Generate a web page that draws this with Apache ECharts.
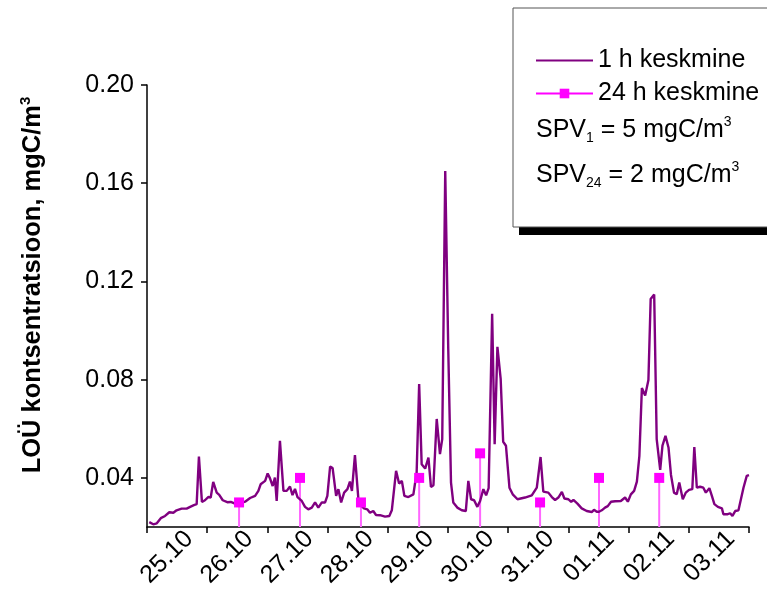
<!DOCTYPE html>
<html>
<head>
<meta charset="utf-8">
<script src="https://cdn.jsdelivr.net/npm/echarts@6/dist/echarts.min.js"></script>
<style>
html,body{margin:0;padding:0;background:#fff;}
#chart{width:767px;height:592px;}
</style>
</head>
<body>
<div id="chart"></div>
<script>
// ---- data ----
const days = ['25.10','26.10','27.10','28.10','29.10','30.10','31.10','01.11','02.11','03.11'];

// hourly (1 h) series: hour since 25.10 00:00, concentration
const hours = [
  0.9, 2.5, 3.9, 5.5, 7.2, 8.9, 10.5, 11.8, 13.8, 15.8, 17.2, 18.7, 19.8, 20.7, 21.9, 23.1,
  24.4, 25.4, 26.4, 27.8, 28.8, 30.2, 32.0, 33.4, 35.1, 36.7, 39.1, 41.1, 43.1, 44.4, 45.3, 47.1,
  48.1, 49.0, 50.1, 51.0, 51.7, 53.0, 54.4, 55.7, 57.0, 58.0, 59.0, 60.0, 61.7, 63.0, 64.3, 65.7,
  67.0, 68.3, 69.7, 71.0, 71.9, 73.0, 74.0, 75.4, 76.3, 77.4, 78.6, 79.9, 80.9, 81.7, 82.9, 84.3,
  85.3, 86.5, 87.8, 88.9, 90.2, 91.3, 92.9, 94.9, 96.6, 97.6, 99.3, 100.5, 101.6, 102.6, 104.2, 106.2,
  107.5, 108.5, 109.5, 110.9, 112.2, 113.2, 114.2, 115.5, 116.8, 117.7, 118.9, 120.1, 121.2, 122.1, 123.7, 125.5,
  127.1, 128.1, 129.2, 130.4, 131.7, 132.8, 134.1, 135.2, 136.2, 137.6, 138.6, 139.7, 141.0, 142.0, 143.1, 144.5,
  145.8, 147.7, 150.7, 153.4, 155.4, 156.9, 158.0, 160.0, 161.4, 162.7, 164.0, 165.4, 166.4, 168.0, 169.1, 170.0,
  171.6, 173.3, 175.3, 177.3, 178.2, 179.3, 180.2, 181.3, 182.6, 183.7, 185.0, 186.6, 188.9, 190.6, 191.7, 192.9,
  194.2, 195.3, 196.3, 197.3, 198.6, 199.9, 200.8, 202.2, 203.2, 204.6, 205.5, 206.7, 207.9, 208.9, 210.1, 211.2,
  212.2, 213.6, 214.8, 216.1, 217.4, 218.2, 219.2, 220.5, 221.8, 222.8, 224.2, 225.2, 226.2, 227.6, 229.2, 229.8,
  231.5, 232.5, 233.4, 234.5, 235.8, 237.8, 239.1, 240.0
];
const hourlyValues = [
  0.0220, 0.0211, 0.0215, 0.0236, 0.0245, 0.0260, 0.0258, 0.0268, 0.0275, 0.0275, 0.0282, 0.0289, 0.0293, 0.0487, 0.0302, 0.0309,
  0.0322, 0.0320, 0.0384, 0.0340, 0.0331, 0.0309, 0.0301, 0.0302, 0.0295, 0.0295, 0.0303, 0.0318, 0.0327, 0.0347, 0.0374, 0.0388,
  0.0418, 0.0399, 0.0367, 0.0401, 0.0306, 0.0551, 0.0347, 0.0347, 0.0365, 0.0330, 0.0355, 0.0322, 0.0306, 0.0282, 0.0272, 0.0279,
  0.0300, 0.0279, 0.0300, 0.0300, 0.0327, 0.0446, 0.0440, 0.0327, 0.0354, 0.0300, 0.0340, 0.0354, 0.0385, 0.0347, 0.0493, 0.0310,
  0.0290, 0.0276, 0.0272, 0.0258, 0.0265, 0.0249, 0.0248, 0.0242, 0.0245, 0.0268, 0.0429, 0.0377, 0.0388, 0.0327, 0.0322, 0.0333,
  0.0422, 0.0782, 0.0456, 0.0438, 0.0483, 0.0363, 0.0370, 0.0640, 0.0497, 0.0558, 0.1650, 0.0925, 0.0381, 0.0300, 0.0279, 0.0268,
  0.0265, 0.0388, 0.0313, 0.0309, 0.0282, 0.0306, 0.0354, 0.0329, 0.0358, 0.1068, 0.0537, 0.0934, 0.0803, 0.0547, 0.0531, 0.0360,
  0.0333, 0.0313, 0.0320, 0.0329, 0.0360, 0.0485, 0.0344, 0.0340, 0.0322, 0.0310, 0.0320, 0.0343, 0.0316, 0.0313, 0.0302, 0.0310,
  0.0295, 0.0276, 0.0265, 0.0261, 0.0270, 0.0262, 0.0262, 0.0268, 0.0279, 0.0285, 0.0303, 0.0305, 0.0306, 0.0320, 0.0303, 0.0333,
  0.0347, 0.0385, 0.0490, 0.0766, 0.0735, 0.0799, 0.1129, 0.1147, 0.0558, 0.0433, 0.0531, 0.0571, 0.0524, 0.0412, 0.0340, 0.0333,
  0.0381, 0.0313, 0.0340, 0.0351, 0.0354, 0.0526, 0.0360, 0.0364, 0.0360, 0.0340, 0.0358, 0.0327, 0.0293, 0.0282, 0.0276, 0.0252,
  0.0252, 0.0256, 0.0245, 0.0265, 0.0268, 0.0360, 0.0408, 0.0411
];

// daily (24 h) averages
const dailyHours = [36.7, 61.0, 85.3, 108.5, 132.8, 156.7, 180.2, 204.2];
const dailyValues = [0.03, 0.04, 0.03, 0.04, 0.05, 0.03, 0.04, 0.04];

const yTicks = [0.04, 0.08, 0.12, 0.16, 0.20];
const yRange = [0.02, 0.20];
const hourRange = [0, 240];

const seriesNames = ['1 h keskmine', '24 h keskmine'];
const yTitle = 'LOÜ kontsentratsioon, mgC/m';

// ---- chart ----
const FONT = '"Liberation Sans", Arial, Helvetica, sans-serif';
const FS = 25;
const chart = echarts.init(document.getElementById('chart'), null, {renderer: 'canvas'});

const hourlyData = hours.map((h, i) => [h, hourlyValues[i]]);
const dailyData = dailyHours.map((h, i) => [h, dailyValues[i]]);

const spvRich = {
  a: {fontSize: FS, fontFamily: FONT, fill: '#000', lineHeight: 30},
  s: {fontSize: 14, fontFamily: FONT, fill: '#000', lineHeight: 14, verticalAlign: 'bottom'},
  p: {fontSize: 14, fontFamily: FONT, fill: '#000', lineHeight: 14, verticalAlign: 'top'}
};

const option = {
  backgroundColor: '#fff',
  animation: false,
  grid: {left: 147, right: 18, top: 85, bottom: 65, containLabel: false, outerBoundsMode: 'none'},
  xAxis: [
    {
      type: 'category',
      data: days,
      boundaryGap: true,
      axisLine: {show: true, lineStyle: {color: '#000', width: 1.5}},
      axisTick: {show: true, inside: false, length: 6, alignWithLabel: false, lineStyle: {color: '#000', width: 1.5}},
      axisLabel: {rotate: 45, fontSize: FS, fontFamily: FONT, color: '#000', margin: -4,
                  verticalAlign: 'top', lineHeight: 34, interval: 0},
      splitLine: {show: false}
    },
    {
      type: 'value',
      min: hourRange[0],
      max: hourRange[1],
      show: false
    }
  ],
  yAxis: {
    type: 'value',
    min: yRange[0],
    max: yRange[1],
    axisLine: {show: true, lineStyle: {color: '#000', width: 1.5}},
    axisTick: {show: true, inside: false, length: 6, customValues: yTicks, lineStyle: {color: '#000', width: 1.5}},
    axisLabel: {customValues: yTicks, formatter: v => v.toFixed(2), fontSize: FS, fontFamily: FONT, color: '#000', margin: 13},
    splitLine: {show: false}
  },
  legend: {
    orient: 'vertical',
    left: 530,
    top: 43,
    itemWidth: 57,
    itemHeight: 12,
    itemGap: 8,
    selectedMode: false,
    z: 10,
    textStyle: {fontSize: FS, fontFamily: FONT, color: '#000', lineHeight: 24},
    data: [
      {name: seriesNames[0], itemStyle: {opacity: 0}},
      {name: seriesNames[1], lineStyle: {color: '#ff00ff', width: 2, opacity: 1, type: 'solid'}}
    ]
  },
  graphic: [
    {type: 'rect', z: 1, shape: {x: 519, y: 16, width: 270, height: 219}, style: {fill: '#000'}},
    {type: 'rect', z: 2, shape: {x: 513, y: 8, width: 270, height: 219}, style: {fill: '#fff', stroke: '#555', lineWidth: 1}},
    {
      type: 'text', z: 11, x: 536, y: 130,
      style: {text: '{a|SPV}{s|1}{a| = 5 mgC/m}{p|3}', verticalAlign: 'middle', align: 'left', rich: spvRich}
    },
    {
      type: 'text', z: 11, x: 536, y: 175,
      style: {text: '{a|SPV}{s|24}{a| = 2 mgC/m}{p|3}', verticalAlign: 'middle', align: 'left', rich: spvRich}
    },
    {
      type: 'text', z: 11, x: 33, y: 285, rotation: Math.PI / 2,
      style: {
        text: '{t|' + yTitle + '}{p|3}',
        align: 'center', verticalAlign: 'middle',
        rich: {
          t: {fontSize: 25.5, fontWeight: 'bold', fontFamily: FONT, fill: '#000', lineHeight: 30},
          p: {fontSize: 15, fontWeight: 'bold', fontFamily: FONT, fill: '#000', lineHeight: 15, verticalAlign: 'top'}
        }
      }
    }
  ],
  series: [
    {
      name: 'drop',
      type: 'bar',
      xAxisIndex: 1,
      data: dailyData,
      barWidth: 2,
      clip: true,
      itemStyle: {color: '#ff66ff'},
      silent: true,
      z: 1
    },
    {
      name: seriesNames[0],
      type: 'line',
      xAxisIndex: 1,
      data: hourlyData,
      symbol: 'none',
      clip: true,
      lineStyle: {color: '#800080', width: 2.4},
      itemStyle: {color: '#800080'},
      z: 2
    },
    {
      name: seriesNames[1],
      type: 'line',
      xAxisIndex: 1,
      data: dailyData,
      symbol: 'rect',
      symbolSize: 10,
      showSymbol: true,
      lineStyle: {width: 0, opacity: 0},
      itemStyle: {color: '#ff00ff'},
      z: 3
    }
  ]
};
chart.setOption(option);
</script>
</body>
</html>
